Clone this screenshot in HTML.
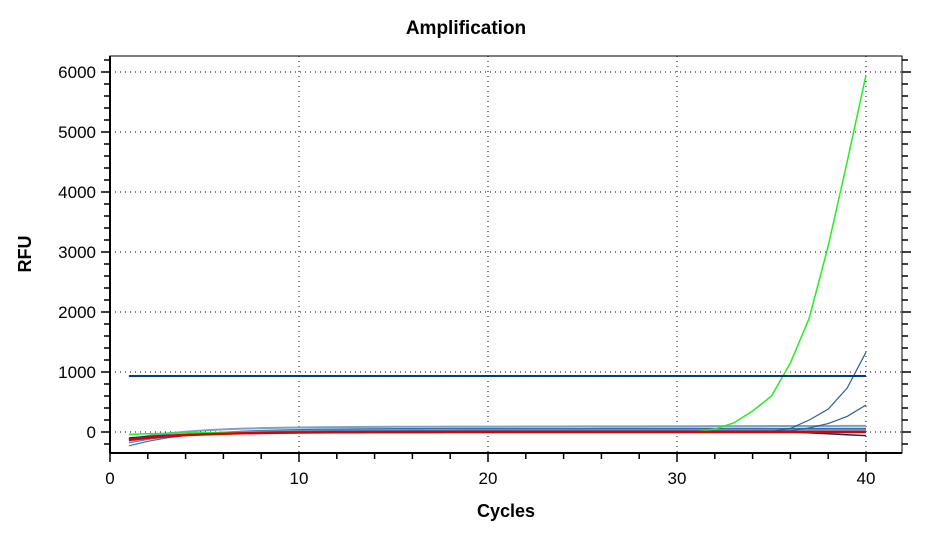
<!DOCTYPE html>
<html><head><style>
body{margin:0;background:#fff;width:930px;height:536px;overflow:hidden}
svg text{font-family:"Liberation Sans",Arial,sans-serif}
</style></head><body>
<svg id="s" width="930" height="536" xmlns="http://www.w3.org/2000/svg">
<text x="466" y="34" text-anchor="middle" font-size="19" font-weight="bold">Amplification</text>
<text x="506" y="517" text-anchor="middle" font-size="18" font-weight="bold">Cycles</text>
<text transform="translate(31,254) rotate(-90)" text-anchor="middle" font-size="18" font-weight="bold">RFU</text>
<g id="g"></g>
</svg>
<script>
const X=c=>110+c*18.9, Y=v=>432-v*0.06;
let h='';
const L=110,R=902,T=56,B=453;
// grid
for(let c=10;c<=40;c+=10)h+=`<line x1="${X(c)}" y1="${T}" x2="${X(c)}" y2="${B}" stroke="#000" stroke-dasharray="1,4"/>`;
for(let v=0;v<=6000;v+=1000)h+=`<line x1="${L}" y1="${Y(v)}" x2="${R}" y2="${Y(v)}" stroke="#000" stroke-dasharray="1,4"/>`;
h+=`<rect x="${L}" y="${T}" width="${R-L}" height="${B-T}" fill="none" stroke="#000" stroke-width="1"/>`;
h+=`<line x1="${L}" y1="${B}" x2="${R}" y2="${B}" stroke="#000" stroke-width="2"/><line x1="${L}" y1="${T}" x2="${L}" y2="${B}" stroke="#000" stroke-width="2"/>`;
for(let c=0;c<=41;c+=2){let big=c%10==0;h+=`<line x1="${X(c)}" y1="${B}" x2="${X(c)}" y2="${B+(big?9:6)}" stroke="#000" stroke-width="1.5"/>`;}
for(let v=-200;v<=6200;v+=200){let big=v%1000==0;h+=`<line x1="${L-(big?9:6)}" y1="${Y(v)}" x2="${L}" y2="${Y(v)}" stroke="#000" stroke-width="1.5"/><line x1="${R}" y1="${Y(v)}" x2="${R+(big?9:6)}" y2="${Y(v)}" stroke="#000" stroke-width="1.5"/>`;}
for(let c=0;c<=40;c+=10)h+=`<text x="${X(c)}" y="484" text-anchor="middle" font-size="17">${c}</text>`;
for(let v=0;v<=6000;v+=1000)h+=`<text x="96" y="${Y(v)+6}" text-anchor="end" font-size="17">${v}</text>`;
function pl(arr,col,w){h+=`<polyline fill="none" stroke="${col}" stroke-width="${w}" points="${arr.map((v,i)=>X(i+1)+','+Y(v)).join(' ')}"/>`;}
function base(start,end,f){let a=[];for(let c=1;c<=40;c++){let t=(c-1)/4;a.push(end+(start-end)*Math.exp(-t*1.2)+(f?f(c):0));}return a;}
pl(base(-230,60),'#3a6ea5',1.2);
pl(base(-180,40),'#5580b0',1.2);
pl(base(-150,30),'#7d9cc4',1.5);
pl(base(-120,90,c=>c>20?(c-20)*0.6:0),'#7fa0c8',2);
pl(base(-100,0,c=>c>36?-(c-36)*15:0),'#003070',1.5);
let b1=base(-120,10);[60,200,380,730,1330].forEach((v,i)=>b1[35+i]=v);pl(b1,'#2a5f98',1.2);
let b2=base(-140,20);[70,140,260,450].forEach((v,i)=>b2[36+i]=v);pl(b2,'#2a5f98',1.2);
let g=base(-40,0);[50,150,350,600,1150,1900,3100,4500,5950].forEach((v,i)=>g[31+i]=v);pl(g,'#22ee22',1.5);
pl(base(-130,0),'#dd0000',2.5);
h+=`<line x1="${X(1)}" y1="376" x2="${X(40)}" y2="376" stroke="#003f7f" stroke-width="2"/>`;
document.getElementById('g').innerHTML=h;
</script>
</body></html>
